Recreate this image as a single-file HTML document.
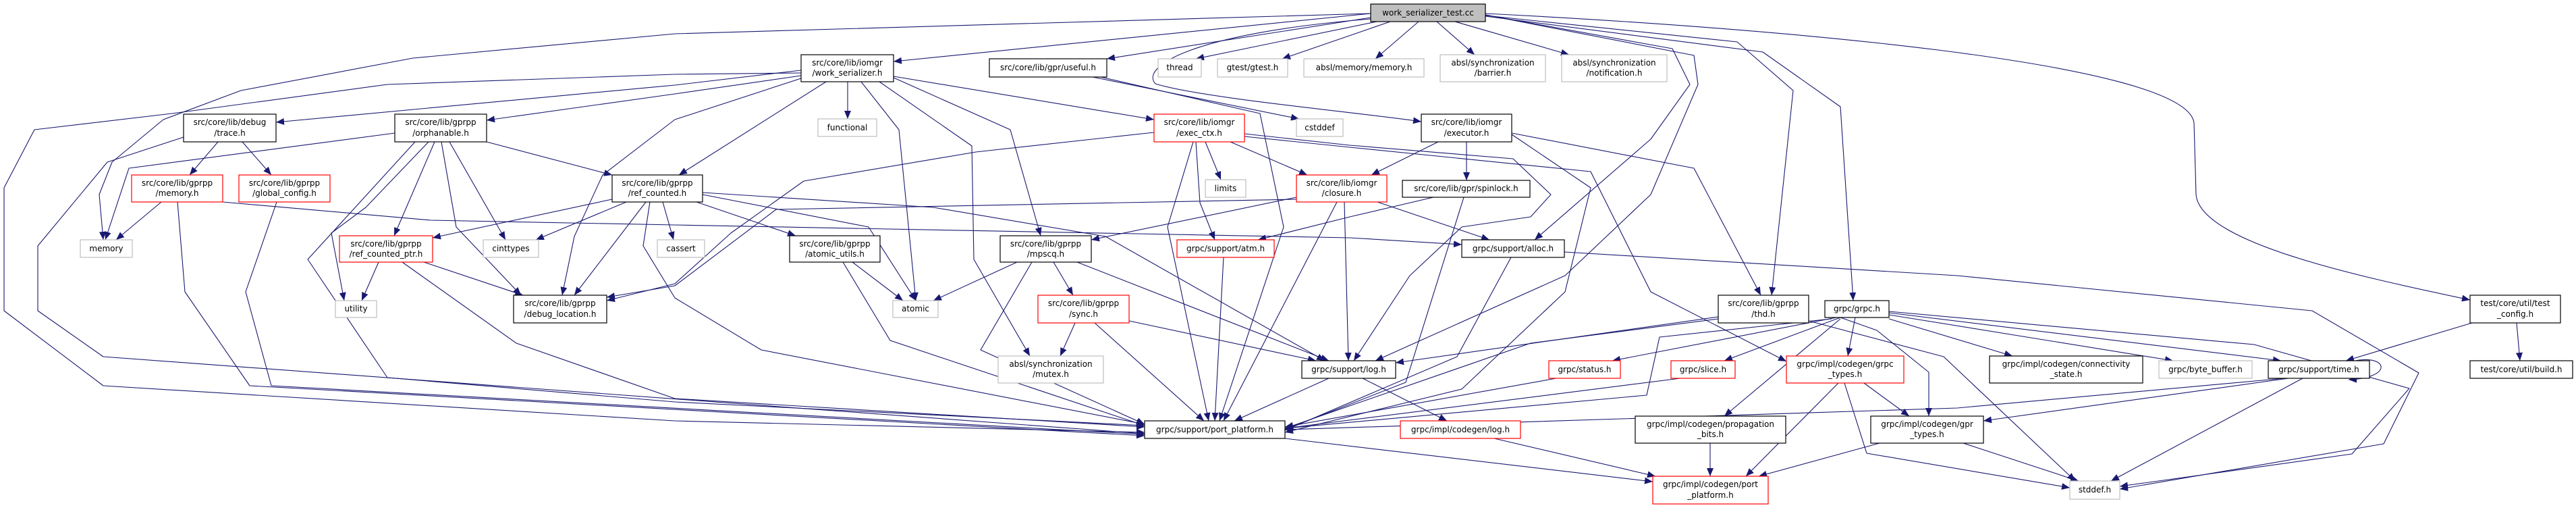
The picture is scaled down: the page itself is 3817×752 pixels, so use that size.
<!DOCTYPE html>
<html><head><meta charset="utf-8"><style>
html,body{margin:0;padding:0;background:#fff;}
svg{display:block;}
text{font-family:"DejaVu Sans","Liberation Sans",sans-serif;font-size:12px;fill:#000;text-anchor:middle;}
.e{fill:none;stroke:#191970;stroke-width:1.1;stroke-linejoin:round;marker-end:url(#a);}
.n{fill:#fff;stroke:#000;stroke-width:1.2;}
.g{fill:#fff;stroke:#bfbfbf;stroke-width:1.2;}
.r{fill:#fff;stroke:#ff0000;stroke-width:1.2;}
.root{fill:#bfbfbf;stroke:#000;stroke-width:1.2;}
</style></head><body>
<svg width="3817" height="752" viewBox="0 0 3817 752" xmlns="http://www.w3.org/2000/svg">
<defs><marker id="a" markerUnits="userSpaceOnUse" markerWidth="13" markerHeight="10" refX="12" refY="5" orient="auto"><path d="M0,0 L12,5 L0,10 z" fill="#191970"/></marker></defs>

<path class="e" d="M2031,20 L1000,50 L612,86 L357,134 L242,177 L166,240 L147,288 L153,355"/>
<path class="e" d="M2031,20 L1324,91"/>
<path class="e" d="M2031,26 L1640,87"/>
<path class="e" d="M2040,32 L1772,87"/>
<path class="e" d="M2060,32 L1900,87"/>
<path class="e" d="M2102,32 L2038,87"/>
<path class="e" d="M2129,32 L2185,81"/>
<path class="e" d="M2156,32 L2325,81"/>
<path class="e" d="M2031,28 C1760,50 1690,100 1712,124 C1780,145 2000,165 2106,180"/>
<path class="e" d="M2201,22 L2478,72 L2504,125 L2446,206 L2274,355"/>
<path class="e" d="M2201,22 L2510,82 L2516,125 L2446,288 L2319,408 L2038,534"/>
<path class="e" d="M2201,23 L2574,62 L2657,134 L2625,437"/>
<path class="e" d="M2201,24 L2612,77 L2727,158 L2746,445"/>
<path class="e" d="M2201,20 C2600,40 3240,90 3251,182 L3254,288 C3260,360 3500,410 3660,444"/>

<path class="e" d="M1187,108 L1000,110 L574,125 L255,168 L51,192 L6,278 L6,460 L153,571 L1000,623 L1696,640"/>
<path class="e" d="M1187,104 L1000,126 L409,181"/>
<path class="e" d="M1187,112 L1000,139 L721,178"/>
<path class="e" d="M1187,116 L1000,177 L893,259 L851,350 L833,437"/>
<path class="e" d="M1224,121 L1006,259"/>
<path class="e" d="M1256,121 L1256,176"/>
<path class="e" d="M1276,121 L1332,192 L1357,445"/>
<path class="e" d="M1303,121 L1440,216 L1443,384 L1526,527"/>
<path class="e" d="M1324,115 L1497,192 L1542,349"/>
<path class="e" d="M1324,113 L1710,177"/>

<path class="e" d="M1619,114 L1925,176"/>
<path class="e" d="M1631,114 L1867,168 L1902,336 L1807,623"/>

<path class="e" d="M1710,196 L1446,225 L1191,268 L1083,345 L1000,420 L899,445"/>
<path class="e" d="M1786,210 L1809,266"/>
<path class="e" d="M1772,210 L1778,300 L1800,355"/>
<path class="e" d="M1768,210 L1730,336 L1791,623"/>
<path class="e" d="M1823,210 L1937,259"/>
<path class="e" d="M1844,198 L2000,215 L2242,235 L2298,288 L2268,321 L2166,336 L2089,408 L2006,534"/>
<path class="e" d="M1844,202 L2000,218 L2357,254 L2446,432 L2647,535"/>

<path class="e" d="M1921,292 L1617,355"/>
<path class="e" d="M1921,295 L1150,310 L1000,423 L899,440"/>
<path class="e" d="M1992,299 L1998,534"/>
<path class="e" d="M1981,299 L1813,623"/>
<path class="e" d="M2041,299 L2207,355"/>

<path class="e" d="M2131,210 L2032,259"/>
<path class="e" d="M2173,210 L2173,267"/>
<path class="e" d="M2240,197 L2510,249 L2609,437"/>
<path class="e" d="M2240,199 L2357,278 L2319,432 L2166,576 L1904,640"/>

<path class="e" d="M2124,292 L2000,321 L1864,355"/>
<path class="e" d="M2169,292 L2083,566 L1904,636"/>

<path class="e" d="M2239,381 L2159,528 L1904,637"/>
<path class="e" d="M2318,373 L2900,408 L3426,460 L3584,552 L3532,657 L3141,724"/>

<path class="e" d="M239,299 L172,355"/>
<path class="e" d="M263,299 L274,432 L370,571 L1696,645"/>
<path class="e" d="M330,299 L638,326 L1000,333 L2000,352 L2166,362"/>
<path class="e" d="M323,210 L281,259"/>
<path class="e" d="M359,210 L402,259"/>
<path class="e" d="M272,203 L159,240 L56,364 L56,460 L153,528 L1696,642"/>
<path class="e" d="M410,299 L364,432 L402,571 L1696,643"/>

<path class="e" d="M585,197 L191,249 L156,355"/>
<path class="e" d="M721,210 L907,259"/>
<path class="e" d="M644,210 L584,349"/>
<path class="e" d="M666,210 L749,355"/>
<path class="e" d="M654,210 L676,336 L772,437"/>
<path class="e" d="M635,210 L542,307 L491,345 L510,445"/>
<path class="e" d="M615,210 L456,384 L574,559 L1000,595 L1696,630"/>

<path class="e" d="M907,295 L641,352"/>
<path class="e" d="M928,299 L794,355"/>
<path class="e" d="M957,299 L851,437"/>
<path class="e" d="M982,299 L998,355"/>
<path class="e" d="M963,299 L953,364 L1000,441 L1128,518 L1696,628"/>
<path class="e" d="M1032,299 L1179,349"/>
<path class="e" d="M1041,288 L1287,336 L1357,445"/>
<path class="e" d="M1041,285 L1383,307 L1638,350 L1963,534"/>

<path class="e" d="M561,388 L536,445"/>
<path class="e" d="M628,388 L775,437"/>
<path class="e" d="M596,388 L765,508 L1000,590 L1696,632"/>

<path class="e" d="M1263,388 L1338,445"/>
<path class="e" d="M1249,388 L1319,504 L1696,630"/>
<path class="e" d="M1507,388 L1383,445"/>
<path class="e" d="M1561,388 L1590,437"/>
<path class="e" d="M1529,388 L1453,518 L1696,628"/>
<path class="e" d="M1596,388 L1969,534"/>
<path class="e" d="M1593,478 L1571,527"/>
<path class="e" d="M1622,478 L1784,623"/>
<path class="e" d="M1673,475 L1950,534"/>
<path class="e" d="M1813,381 L1800,623"/>

<path class="e" d="M1969,560 L1829,623"/>
<path class="e" d="M2019,560 L2144,623"/>
<path class="e" d="M2214,649 L2453,705"/>
<path class="e" d="M1904,649 L2449,713"/>

<path class="e" d="M2546,469 L2068,537"/>
<path class="e" d="M2546,472 L2268,508 L1904,634"/>
<path class="e" d="M2680,475 L2880,528 L3075,712"/>

<path class="e" d="M2721,470 L2389,534"/>
<path class="e" d="M2727,470 L2555,534"/>
<path class="e" d="M2749,470 L2738,527"/>
<path class="e" d="M2727,472 L2555,616"/>
<path class="e" d="M2727,470 L2781,489 L2858,551 L2858,616"/>
<path class="e" d="M2714,472 L2459,499 L2440,585 L1904,634"/>
<path class="e" d="M2799,472 L2982,527"/>
<path class="e" d="M2799,466 L3220,534"/>
<path class="e" d="M2799,463 L3380,534"/>
<path class="e" d="M2799,461 L3340,510 L3570,575 L3485,672 L3141,720"/>

<path class="e" d="M2762,567 L2829,616"/>
<path class="e" d="M2724,567 L2587,705"/>
<path class="e" d="M2733,567 L2766,671 L3067,722"/>
<path class="e" d="M2785,656 L2606,705"/>
<path class="e" d="M2909,656 L3080,712"/>
<path class="e" d="M2534,656 L2534,705"/>
<path class="e" d="M2306,560 L1904,632"/>
<path class="e" d="M2490,560 L1904,634"/>

<path class="e" d="M3490,534 C3540,525 3545,560 3480,562"/>
<path class="e" d="M3391,560 L2939,623"/>
<path class="e" d="M3385,560 L2900,604 L1904,636"/>
<path class="e" d="M3412,560 L3128,712"/>
<path class="e" d="M3663,478 L3476,534"/>
<path class="e" d="M3729,478 L3734,534"/>

<rect class="root" x="2031" y="6" width="170" height="26"/><text x="2116" y="23">work_serializer_test.cc</text>
<rect class="n" x="1187" y="81" width="137" height="40"/><text x="1255.5" y="97">src/core/lib/iomgr</text><text x="1255.5" y="112">/work_serializer.h</text>
<rect class="n" x="1466" y="87" width="174" height="27"/><text x="1553" y="104">src/core/lib/gpr/useful.h</text>
<rect class="g" x="1716" y="87" width="64" height="27"/><text x="1748" y="104">thread</text>
<rect class="g" x="1804" y="87" width="104" height="27"/><text x="1856" y="104">gtest/gtest.h</text>
<rect class="g" x="1932" y="87" width="178" height="27"/><text x="2021" y="104">absl/memory/memory.h</text>
<rect class="g" x="2134" y="81" width="156" height="40"/><text x="2212" y="97">absl/synchronization</text><text x="2212" y="112">/barrier.h</text>
<rect class="g" x="2314" y="81" width="156" height="40"/><text x="2392" y="97">absl/synchronization</text><text x="2392" y="112">/notification.h</text>
<rect class="n" x="272" y="169" width="137" height="41"/><text x="340.5" y="185">src/core/lib/debug</text><text x="340.5" y="201">/trace.h</text>
<rect class="n" x="585" y="169" width="136" height="41"/><text x="653" y="185">src/core/lib/gprpp</text><text x="653" y="201">/orphanable.h</text>
<rect class="g" x="1212" y="176" width="87" height="26"/><text x="1255.5" y="193">functional</text>
<rect class="r" x="1710" y="169" width="134" height="41"/><text x="1777" y="185">src/core/lib/iomgr</text><text x="1777" y="201">/exec_ctx.h</text>
<rect class="g" x="1921" y="176" width="69" height="26"/><text x="1955.5" y="193">cstddef</text>
<rect class="n" x="2106" y="169" width="134" height="41"/><text x="2173" y="185">src/core/lib/iomgr</text><text x="2173" y="201">/executor.h</text>
<rect class="r" x="195" y="259" width="135" height="40"/><text x="262.5" y="275">src/core/lib/gprpp</text><text x="262.5" y="290">/memory.h</text>
<rect class="r" x="354" y="259" width="135" height="40"/><text x="421.5" y="275">src/core/lib/gprpp</text><text x="421.5" y="290">/global_config.h</text>
<rect class="n" x="907" y="259" width="134" height="40"/><text x="974" y="275">src/core/lib/gprpp</text><text x="974" y="290">/ref_counted.h</text>
<rect class="g" x="1786" y="266" width="60" height="26"/><text x="1816" y="283">limits</text>
<rect class="r" x="1921" y="259" width="134" height="40"/><text x="1988" y="275">src/core/lib/iomgr</text><text x="1988" y="290">/closure.h</text>
<rect class="n" x="2078" y="267" width="189" height="25"/><text x="2172.5" y="283">src/core/lib/gpr/spinlock.h</text>
<rect class="g" x="119" y="355" width="77" height="26"/><text x="157.5" y="372">memory</text>
<rect class="r" x="503" y="349" width="138" height="39"/><text x="572" y="365">src/core/lib/gprpp</text><text x="572" y="380">/ref_counted_ptr.h</text>
<rect class="g" x="716" y="355" width="82" height="26"/><text x="757" y="372">cinttypes</text>
<rect class="g" x="974" y="355" width="70" height="26"/><text x="1009" y="372">cassert</text>
<rect class="n" x="1170" y="349" width="134" height="39"/><text x="1237" y="365">src/core/lib/gprpp</text><text x="1237" y="380">/atomic_utils.h</text>
<rect class="n" x="1482" y="349" width="135" height="39"/><text x="1549.5" y="365">src/core/lib/gprpp</text><text x="1549.5" y="380">/mpscq.h</text>
<rect class="r" x="1744" y="355" width="144" height="26"/><text x="1816" y="372">grpc/support/atm.h</text>
<rect class="n" x="2166" y="355" width="152" height="26"/><text x="2242" y="372">grpc/support/alloc.h</text>
<rect class="g" x="497" y="445" width="61" height="25"/><text x="527.5" y="461">utility</text>
<rect class="n" x="761" y="437" width="138" height="41"/><text x="830" y="453">src/core/lib/gprpp</text><text x="830" y="469">/debug_location.h</text>
<rect class="g" x="1323" y="445" width="67" height="25"/><text x="1356.5" y="461">atomic</text>
<rect class="r" x="1538" y="437" width="135" height="41"/><text x="1605.5" y="453">src/core/lib/gprpp</text><text x="1605.5" y="469">/sync.h</text>
<rect class="n" x="2546" y="437" width="134" height="41"/><text x="2613" y="453">src/core/lib/gprpp</text><text x="2613" y="469">/thd.h</text>
<rect class="n" x="2704" y="445" width="95" height="25"/><text x="2751.5" y="461">grpc/grpc.h</text>
<rect class="n" x="3660" y="437" width="134" height="41"/><text x="3727" y="453">test/core/util/test</text><text x="3727" y="469">_config.h</text>
<rect class="g" x="1479" y="527" width="156" height="40"/><text x="1557" y="543">absl/synchronization</text><text x="1557" y="558">/mutex.h</text>
<rect class="n" x="1929" y="534" width="139" height="26"/><text x="1998.5" y="551">grpc/support/log.h</text>
<rect class="r" x="2295" y="534" width="106" height="26"/><text x="2348" y="551">grpc/status.h</text>
<rect class="r" x="2476" y="534" width="95" height="26"/><text x="2523.5" y="551">grpc/slice.h</text>
<rect class="r" x="2647" y="527" width="174" height="40"/><text x="2734" y="543">grpc/impl/codegen/grpc</text><text x="2734" y="558">_types.h</text>
<rect class="n" x="2948" y="527" width="227" height="40"/><text x="3061.5" y="543">grpc/impl/codegen/connectivity</text><text x="3061.5" y="558">_state.h</text>
<rect class="g" x="3199" y="534" width="138" height="26"/><text x="3268" y="551">grpc/byte_buffer.h</text>
<rect class="n" x="3361" y="534" width="150" height="26"/><text x="3436" y="551">grpc/support/time.h</text>
<rect class="n" x="3660" y="534" width="152" height="26"/><text x="3736" y="551">test/core/util/build.h</text>
<rect class="n" x="1696" y="623" width="208" height="26"/><text x="1800" y="640">grpc/support/port_platform.h</text>
<rect class="r" x="2075" y="623" width="178" height="26"/><text x="2164" y="640">grpc/impl/codegen/log.h</text>
<rect class="n" x="2423" y="616" width="223" height="40"/><text x="2534.5" y="632">grpc/impl/codegen/propagation</text><text x="2534.5" y="647">_bits.h</text>
<rect class="n" x="2772" y="616" width="167" height="40"/><text x="2855.5" y="632">grpc/impl/codegen/gpr</text><text x="2855.5" y="647">_types.h</text>
<rect class="r" x="2449" y="705" width="171" height="41"/><text x="2534.5" y="721">grpc/impl/codegen/port</text><text x="2534.5" y="737">_platform.h</text>
<rect class="g" x="3067" y="712" width="74" height="27"/><text x="3104" y="729">stddef.h</text>
</svg>
</body></html>
